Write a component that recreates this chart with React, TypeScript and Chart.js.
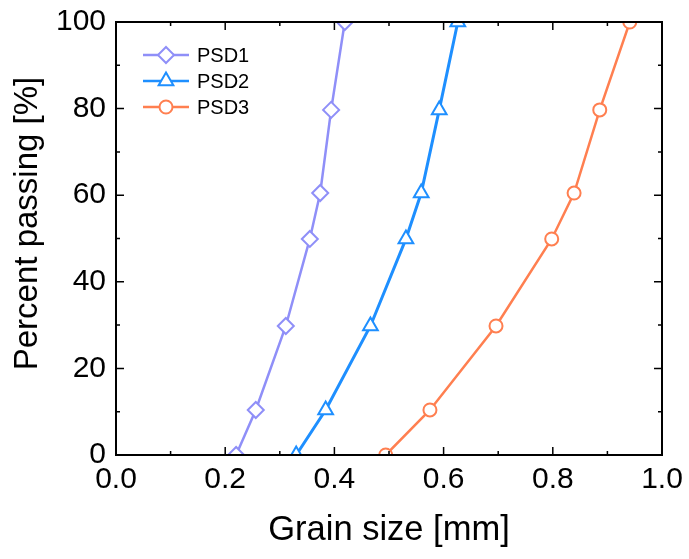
import React, { useEffect, useRef } from "react";
import { Chart, registerables } from "chart.js";

Chart.register(...registerables);

const seriesNames = ["PSD1", "PSD2", "PSD3"];
const seriesColors = ["#8F8FF8", "#1E8FFF", "#FF7F50"];
const seriesMarkers = ["diamond", "triangle", "circle"];

const passing = [0, 10.4, 29.8, 49.9, 60.5, 79.7, 100];
const psd1Size = [0.22, 0.256, 0.311, 0.355, 0.374, 0.394, 0.419];
const psd2Size = [0.33, 0.384, 0.466, 0.531, 0.559, 0.592, 0.626];
const psd3Size = [0.494, 0.575, 0.696, 0.798, 0.839, 0.886, 0.941];

const xMajorTicks = [0, 0.2, 0.4, 0.6, 0.8, 1.0];
const xMinorTicks = [0.1, 0.3, 0.5, 0.7, 0.9];
const yMajorTicks = [0, 20, 40, 60, 80, 100];
const yMinorTicks = [10, 30, 50, 70, 90];

const xTitle = "Grain size [mm]";
const yTitle = "Percent passing [%]";

const FONT = "'Liberation Sans', Arial, Helvetica, sans-serif";

function drawMarker(ctx: CanvasRenderingContext2D, kind: string, x: number, y: number, color: string) {
  ctx.save();
  ctx.fillStyle = "#ffffff";
  ctx.strokeStyle = color;
  ctx.lineWidth = 2;
  ctx.beginPath();
  if (kind === "diamond") {
    const r = 8;
    ctx.moveTo(x, y - r);
    ctx.lineTo(x + r, y);
    ctx.lineTo(x, y + r);
    ctx.lineTo(x - r, y);
    ctx.closePath();
  } else if (kind === "triangle") {
    const r = 8.5;
    ctx.moveTo(x, y - r);
    ctx.lineTo(x + r * 0.866, y + r * 0.5);
    ctx.lineTo(x - r * 0.866, y + r * 0.5);
    ctx.closePath();
  } else {
    ctx.arc(x, y, 6.5, 0, Math.PI * 2);
  }
  ctx.fill();
  ctx.stroke();
  ctx.restore();
}

const framePlugin = {
  id: "frameTicksLegend",
  afterDraw(chart: any) {
    const ctx: CanvasRenderingContext2D = chart.ctx;
    const { left, right, top, bottom } = chart.chartArea;
    const xs = chart.scales.x;
    const ys = chart.scales.y;
    ctx.save();
    ctx.strokeStyle = "#000000";
    ctx.lineWidth = 1.5;
    const tick = (vals: number[], len: number) => {
      for (const v of vals) {
        const px = xs.getPixelForValue(v);
        ctx.beginPath();
        ctx.moveTo(px, bottom);
        ctx.lineTo(px, bottom - len);
        ctx.moveTo(px, top);
        ctx.lineTo(px, top + len);
        ctx.stroke();
      }
    };
    const ytick = (vals: number[], len: number) => {
      for (const v of vals) {
        const py = ys.getPixelForValue(v);
        ctx.beginPath();
        ctx.moveTo(left, py);
        ctx.lineTo(left + len, py);
        ctx.moveTo(right, py);
        ctx.lineTo(right - len, py);
        ctx.stroke();
      }
    };
    tick(xMajorTicks, 8);
    tick(xMinorTicks, 4);
    ytick(yMajorTicks, 8);
    ytick(yMinorTicks, 4);
    ctx.lineWidth = 2;
    ctx.strokeRect(left, top, right - left, bottom - top);

    // y axis title
    ctx.save();
    ctx.translate(28, (top + bottom) / 2 - 15);
    ctx.rotate(-Math.PI / 2);
    ctx.font = `33px ${FONT}`;
    ctx.fillStyle = "#000000";
    ctx.textAlign = "center";
    ctx.textBaseline = "middle";
    ctx.fillText(yTitle, 0, 0);
    ctx.restore();

    // legend
    const lx = left + 27;
    const ly = top + 33;
    const gap = 26;
    seriesNames.forEach((name, i) => {
      const y = ly + i * gap;
      ctx.strokeStyle = seriesColors[i];
      ctx.lineWidth = 2.5;
      ctx.beginPath();
      ctx.moveTo(lx, y);
      ctx.lineTo(lx + 46, y);
      ctx.stroke();
      drawMarker(ctx, seriesMarkers[i], lx + 23, y, seriesColors[i]);
      ctx.fillStyle = "#000000";
      ctx.font = `20px ${FONT}`;
      ctx.textAlign = "left";
      ctx.textBaseline = "middle";
      ctx.fillText(name, lx + 54, y + 1);
    });
    ctx.restore();
  },
};

const pointStyles: Record<string, string> = { diamond: "rectRot", triangle: "triangle", circle: "circle" };
const pointRadii: Record<string, number> = { diamond: 8, triangle: 8.5, circle: 6.5 };

export default function App() {
  const canvasRef = useRef<HTMLCanvasElement | null>(null);

  useEffect(() => {
    document.body.style.margin = "0";
    const canvas = canvasRef.current;
    if (!canvas) return;
    const sizes = [psd1Size, psd2Size, psd3Size];
    const chart = new Chart(canvas, {
      type: "line",
      data: {
        datasets: seriesNames.map((name, i) => ({
          label: name,
          data: sizes[i].map((x, j) => ({ x, y: passing[j] })),
          borderColor: seriesColors[i],
          backgroundColor: "#ffffff",
          borderWidth: i === 1 ? 3 : 2.5,
          pointStyle: pointStyles[seriesMarkers[i]] as any,
          pointRadius: pointRadii[seriesMarkers[i]],
          pointBorderWidth: 2,
          pointBackgroundColor: "#ffffff",
          pointBorderColor: seriesColors[i],
          tension: 0,
          clip: 0,
        })),
      },
      options: {
        animation: false,
        responsive: false,
        maintainAspectRatio: false,
        layout: { padding: { top: 22, right: 27, left: 0, bottom: 0 } },
        plugins: { legend: { display: false }, tooltip: { enabled: false } },
        scales: {
          x: {
            type: "linear",
            min: 0,
            max: 1,
            afterFit: (s: any) => {
              s.height = 104;
              s.paddingLeft = 0;
              s.paddingRight = 0;
              s.paddingTop = 0;
              s.paddingBottom = 0;
            },
            afterBuildTicks: (s: any) => {
              s.ticks = xMajorTicks.map((v) => ({ value: v }));
            },
            ticks: {
              padding: 7,
              color: "#000000",
              font: { family: FONT, size: 30 },
              callback: (v: any) => Number(v).toFixed(1),
              maxRotation: 0,
              autoSkip: false,
            },
            grid: { display: false, drawTicks: false },
            border: { display: false },
            title: {
              display: true,
              text: xTitle,
              color: "#000000",
              font: { family: FONT, size: 34.5 },
              padding: { top: 0, bottom: 8 },
            },
          },
          y: {
            type: "linear",
            min: 0,
            max: 100,
            afterFit: (s: any) => {
              s.width = 116;
              s.paddingLeft = 0;
              s.paddingRight = 0;
              s.paddingTop = 0;
              s.paddingBottom = 0;
            },
            afterBuildTicks: (s: any) => {
              s.ticks = yMajorTicks.map((v) => ({ value: v }));
            },
            ticks: {
              padding: 10,
              color: "#000000",
              font: { family: FONT, size: 30 },
              autoSkip: false,
            },
            grid: { display: false, drawTicks: false },
            border: { display: false },
          },
        },
      },
      plugins: [framePlugin],
    });
    return () => chart.destroy();
  }, []);

  return (
    <div style={{ width: 689, height: 559 }}>
      <canvas ref={canvasRef} width={689} height={559} style={{ display: "block" }} />
    </div>
  );
}
